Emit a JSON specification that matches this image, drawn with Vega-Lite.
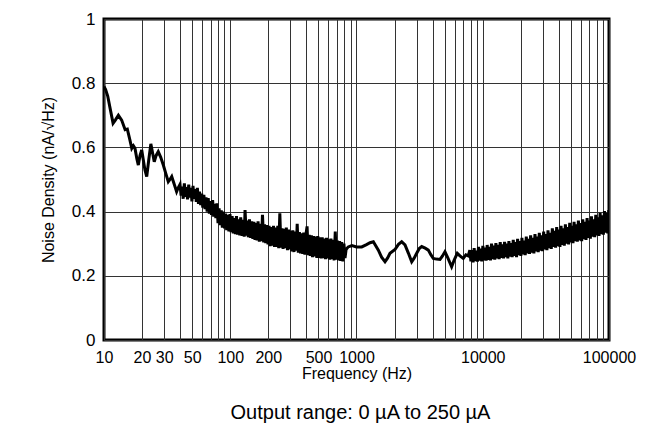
{
  "$schema": "https://vega.github.io/schema/vega-lite/v6.json",
  "width": 505,
  "height": 321,
  "autosize": {"type": "none"},
  "padding": {"left": 104, "top": 19, "right": 52, "bottom": 84},
  "background": "white",
  "config": {
    "view": {"stroke": "black", "strokeWidth": 3},
    "font": "Liberation Sans"
  },
  "title": {
    "text": "Output range: 0 µA to 250 µA",
    "orient": "bottom",
    "anchor": "middle",
    "fontSize": 20,
    "fontWeight": "normal",
    "color": "black",
    "offset": 22,
    "dx": 4
  },
  "data": {
    "values": [
      {"f": 10, "v": 0.79}, {"f": 10.3, "v": 0.78}, {"f": 10.7, "v": 0.76}, {"f": 11.2, "v": 0.72},
      {"f": 11.8, "v": 0.675}, {"f": 12.3, "v": 0.685}, {"f": 13.0, "v": 0.70}, {"f": 13.8, "v": 0.685},
      {"f": 14.7, "v": 0.655}, {"f": 15.3, "v": 0.657}, {"f": 16.0, "v": 0.625}, {"f": 16.6, "v": 0.597},
      {"f": 17.1, "v": 0.605}, {"f": 17.6, "v": 0.597}, {"f": 18.2, "v": 0.565}, {"f": 18.7, "v": 0.545},
      {"f": 19.3, "v": 0.575}, {"f": 19.9, "v": 0.592}, {"f": 20.5, "v": 0.56}, {"f": 21.1, "v": 0.53},
      {"f": 21.8, "v": 0.509}, {"f": 22.6, "v": 0.56}, {"f": 23.5, "v": 0.611}, {"f": 24.2, "v": 0.585},
      {"f": 25.0, "v": 0.555}, {"f": 25.9, "v": 0.575}, {"f": 26.9, "v": 0.587}, {"f": 28.1, "v": 0.57},
      {"f": 29.5, "v": 0.545}, {"f": 30.8, "v": 0.52}, {"f": 32.3, "v": 0.493}, {"f": 33.3, "v": 0.50},
      {"f": 34.4, "v": 0.509}, {"f": 36.0, "v": 0.485}, {"f": 37.6, "v": 0.462}, {"f": 38.8, "v": 0.475},
      {"f": 40, "v": 0.485}, {"f": 40.8, "v": 0.450}, {"f": 41.6, "v": 0.478}, {"f": 42.4, "v": 0.440},
      {"f": 43.3, "v": 0.488}, {"f": 44.2, "v": 0.446}, {"f": 45.0, "v": 0.476}, {"f": 45.9, "v": 0.438},
      {"f": 46.9, "v": 0.484}, {"f": 47.8, "v": 0.444}, {"f": 48.8, "v": 0.474}, {"f": 49.7, "v": 0.432},
      {"f": 50.7, "v": 0.480}, {"f": 51.7, "v": 0.440}, {"f": 52.8, "v": 0.470}, {"f": 53.8, "v": 0.430},
      {"f": 54.9, "v": 0.474}, {"f": 56.0, "v": 0.424}, {"f": 57.1, "v": 0.462}, {"f": 58.3, "v": 0.420},
      {"f": 59.4, "v": 0.456}, {"f": 60.6, "v": 0.412}, {"f": 61.8, "v": 0.452}, {"f": 63.1, "v": 0.408},
      {"f": 64.3, "v": 0.444}, {"f": 65.6, "v": 0.400}, {"f": 66.9, "v": 0.442}, {"f": 68.3, "v": 0.394},
      {"f": 69.6, "v": 0.433}, {"f": 71.0, "v": 0.390}, {"f": 72.5, "v": 0.436}, {"f": 73.9, "v": 0.384},
      {"f": 75.4, "v": 0.424}, {"f": 76.9, "v": 0.380}, {"f": 78.4, "v": 0.426}, {"f": 80.0, "v": 0.364},
      {"f": 81.6, "v": 0.410}, {"f": 83.2, "v": 0.358}, {"f": 84.9, "v": 0.404}, {"f": 86.6, "v": 0.350},
      {"f": 88.3, "v": 0.400}, {"f": 90.1, "v": 0.348}, {"f": 91.9, "v": 0.394}, {"f": 93.7, "v": 0.342},
      {"f": 95.6, "v": 0.390}, {"f": 97.5, "v": 0.338}, {"f": 99.5, "v": 0.392}, {"f": 101.5, "v": 0.336},
      {"f": 103.5, "v": 0.386}, {"f": 105.6, "v": 0.332}, {"f": 107.7, "v": 0.380}, {"f": 109.8, "v": 0.330},
      {"f": 112, "v": 0.386}, {"f": 114, "v": 0.328}, {"f": 117, "v": 0.376}, {"f": 119, "v": 0.326},
      {"f": 121, "v": 0.382}, {"f": 124, "v": 0.324}, {"f": 126, "v": 0.374}, {"f": 129, "v": 0.322},
      {"f": 131, "v": 0.405}, {"f": 134, "v": 0.325}, {"f": 137, "v": 0.372}, {"f": 139, "v": 0.320},
      {"f": 142, "v": 0.376}, {"f": 145, "v": 0.318}, {"f": 148, "v": 0.370}, {"f": 151, "v": 0.315},
      {"f": 154, "v": 0.368}, {"f": 157, "v": 0.312}, {"f": 160, "v": 0.364}, {"f": 163, "v": 0.310},
      {"f": 166, "v": 0.370}, {"f": 170, "v": 0.306}, {"f": 173, "v": 0.362}, {"f": 177, "v": 0.308},
      {"f": 180, "v": 0.390}, {"f": 184, "v": 0.304}, {"f": 187, "v": 0.360}, {"f": 191, "v": 0.302},
      {"f": 195, "v": 0.358}, {"f": 199, "v": 0.298}, {"f": 203, "v": 0.356}, {"f": 207, "v": 0.292},
      {"f": 211, "v": 0.352}, {"f": 215, "v": 0.294}, {"f": 220, "v": 0.356}, {"f": 224, "v": 0.290},
      {"f": 228, "v": 0.350}, {"f": 233, "v": 0.290}, {"f": 238, "v": 0.356}, {"f": 242, "v": 0.286},
      {"f": 247, "v": 0.395}, {"f": 252, "v": 0.288}, {"f": 257, "v": 0.348}, {"f": 262, "v": 0.284},
      {"f": 268, "v": 0.346}, {"f": 273, "v": 0.286}, {"f": 278, "v": 0.350}, {"f": 284, "v": 0.280},
      {"f": 290, "v": 0.344}, {"f": 295, "v": 0.282}, {"f": 301, "v": 0.340}, {"f": 307, "v": 0.276},
      {"f": 313, "v": 0.342}, {"f": 320, "v": 0.274}, {"f": 326, "v": 0.338}, {"f": 333, "v": 0.278},
      {"f": 339, "v": 0.362}, {"f": 346, "v": 0.272}, {"f": 353, "v": 0.336}, {"f": 360, "v": 0.270},
      {"f": 367, "v": 0.332}, {"f": 375, "v": 0.268}, {"f": 382, "v": 0.335}, {"f": 390, "v": 0.266},
      {"f": 398, "v": 0.330}, {"f": 406, "v": 0.354}, {"f": 414, "v": 0.264}, {"f": 422, "v": 0.328},
      {"f": 430, "v": 0.262}, {"f": 439, "v": 0.326}, {"f": 448, "v": 0.258}, {"f": 457, "v": 0.324},
      {"f": 466, "v": 0.260}, {"f": 475, "v": 0.322}, {"f": 485, "v": 0.256}, {"f": 494, "v": 0.324},
      {"f": 504, "v": 0.256}, {"f": 514, "v": 0.320}, {"f": 525, "v": 0.254}, {"f": 535, "v": 0.320},
      {"f": 546, "v": 0.255}, {"f": 557, "v": 0.316}, {"f": 568, "v": 0.252}, {"f": 579, "v": 0.318},
      {"f": 591, "v": 0.254}, {"f": 603, "v": 0.314}, {"f": 615, "v": 0.250}, {"f": 627, "v": 0.316},
      {"f": 640, "v": 0.252}, {"f": 652, "v": 0.312}, {"f": 665, "v": 0.248}, {"f": 679, "v": 0.338},
      {"f": 692, "v": 0.250}, {"f": 706, "v": 0.310}, {"f": 720, "v": 0.248}, {"f": 735, "v": 0.308},
      {"f": 749, "v": 0.246}, {"f": 764, "v": 0.305}, {"f": 780, "v": 0.245}, {"f": 795, "v": 0.300},
      {"f": 811, "v": 0.255}, {"f": 827, "v": 0.282},
      {"f": 860, "v": 0.290}, {"f": 920, "v": 0.294}, {"f": 1000, "v": 0.29}, {"f": 1100, "v": 0.29},
      {"f": 1200, "v": 0.297}, {"f": 1280, "v": 0.303}, {"f": 1360, "v": 0.306}, {"f": 1490, "v": 0.28},
      {"f": 1580, "v": 0.258}, {"f": 1682, "v": 0.244}, {"f": 1760, "v": 0.255}, {"f": 1842, "v": 0.27},
      {"f": 2018, "v": 0.282}, {"f": 2150, "v": 0.298}, {"f": 2280, "v": 0.306}, {"f": 2422, "v": 0.296},
      {"f": 2580, "v": 0.27}, {"f": 2737, "v": 0.244}, {"f": 2860, "v": 0.255}, {"f": 2998, "v": 0.27},
      {"f": 3140, "v": 0.285}, {"f": 3284, "v": 0.291}, {"f": 3500, "v": 0.286}, {"f": 3706, "v": 0.28},
      {"f": 3880, "v": 0.266}, {"f": 4059, "v": 0.254}, {"f": 4300, "v": 0.252}, {"f": 4585, "v": 0.251},
      {"f": 4800, "v": 0.262}, {"f": 5019, "v": 0.275}, {"f": 5300, "v": 0.255}, {"f": 5668, "v": 0.228},
      {"f": 5950, "v": 0.25}, {"f": 6283, "v": 0.27}, {"f": 6600, "v": 0.262}, {"f": 7012, "v": 0.254},
      {"f": 7350, "v": 0.265}, {"f": 7680, "v": 0.262},
      {"f": 7900, "v": 0.280}, {"f": 8058, "v": 0.245}, {"f": 8219, "v": 0.280}, {"f": 8384, "v": 0.242},
      {"f": 8551, "v": 0.286}, {"f": 8722, "v": 0.246}, {"f": 8897, "v": 0.278}, {"f": 9075, "v": 0.244},
      {"f": 9256, "v": 0.290}, {"f": 9441, "v": 0.247}, {"f": 9630, "v": 0.285}, {"f": 9823, "v": 0.245},
      {"f": 10019, "v": 0.293}, {"f": 10220, "v": 0.248}, {"f": 10424, "v": 0.288}, {"f": 10633, "v": 0.247},
      {"f": 10845, "v": 0.296}, {"f": 11062, "v": 0.250}, {"f": 11283, "v": 0.290}, {"f": 11509, "v": 0.248},
      {"f": 11739, "v": 0.300}, {"f": 11974, "v": 0.252}, {"f": 12214, "v": 0.294}, {"f": 12458, "v": 0.250},
      {"f": 12707, "v": 0.302}, {"f": 12961, "v": 0.254}, {"f": 13220, "v": 0.296}, {"f": 13485, "v": 0.252},
      {"f": 13754, "v": 0.305}, {"f": 14030, "v": 0.256}, {"f": 14310, "v": 0.298}, {"f": 14596, "v": 0.254},
      {"f": 14888, "v": 0.306}, {"f": 15186, "v": 0.258}, {"f": 15490, "v": 0.300}, {"f": 15800, "v": 0.254},
      {"f": 16116, "v": 0.308}, {"f": 16438, "v": 0.260}, {"f": 16767, "v": 0.302}, {"f": 17102, "v": 0.258},
      {"f": 17444, "v": 0.312}, {"f": 17793, "v": 0.262}, {"f": 18149, "v": 0.305}, {"f": 18512, "v": 0.258},
      {"f": 18882, "v": 0.315}, {"f": 19260, "v": 0.264}, {"f": 19645, "v": 0.308}, {"f": 20038, "v": 0.262},
      {"f": 20439, "v": 0.318}, {"f": 20848, "v": 0.267}, {"f": 21265, "v": 0.310}, {"f": 21690, "v": 0.264},
      {"f": 22124, "v": 0.322}, {"f": 22566, "v": 0.270}, {"f": 23018, "v": 0.315}, {"f": 23478, "v": 0.268},
      {"f": 23948, "v": 0.326}, {"f": 24427, "v": 0.272}, {"f": 24915, "v": 0.318}, {"f": 25413, "v": 0.270},
      {"f": 25922, "v": 0.330}, {"f": 26440, "v": 0.276}, {"f": 26969, "v": 0.322}, {"f": 27508, "v": 0.274},
      {"f": 28059, "v": 0.334}, {"f": 28620, "v": 0.278}, {"f": 29192, "v": 0.326}, {"f": 29776, "v": 0.277},
      {"f": 30372, "v": 0.338}, {"f": 30979, "v": 0.282}, {"f": 31599, "v": 0.330}, {"f": 32231, "v": 0.280},
      {"f": 32875, "v": 0.342}, {"f": 33533, "v": 0.286}, {"f": 34204, "v": 0.334}, {"f": 34888, "v": 0.284},
      {"f": 35585, "v": 0.348}, {"f": 36297, "v": 0.290}, {"f": 37023, "v": 0.340}, {"f": 37763, "v": 0.288},
      {"f": 38519, "v": 0.352}, {"f": 39289, "v": 0.292}, {"f": 40075, "v": 0.344}, {"f": 40877, "v": 0.290},
      {"f": 41694, "v": 0.356}, {"f": 42528, "v": 0.296}, {"f": 43379, "v": 0.348}, {"f": 44246, "v": 0.294},
      {"f": 45131, "v": 0.360}, {"f": 46034, "v": 0.300}, {"f": 46955, "v": 0.352}, {"f": 47894, "v": 0.298},
      {"f": 48852, "v": 0.365}, {"f": 49829, "v": 0.304}, {"f": 50825, "v": 0.356}, {"f": 51842, "v": 0.302},
      {"f": 52879, "v": 0.368}, {"f": 53936, "v": 0.308}, {"f": 55015, "v": 0.360}, {"f": 56115, "v": 0.306},
      {"f": 57237, "v": 0.372}, {"f": 58382, "v": 0.310}, {"f": 59550, "v": 0.364}, {"f": 60741, "v": 0.308},
      {"f": 61956, "v": 0.376}, {"f": 63195, "v": 0.314}, {"f": 64459, "v": 0.368}, {"f": 65748, "v": 0.312},
      {"f": 67063, "v": 0.380}, {"f": 68404, "v": 0.318}, {"f": 69772, "v": 0.372}, {"f": 71168, "v": 0.316},
      {"f": 72591, "v": 0.385}, {"f": 74043, "v": 0.322}, {"f": 75524, "v": 0.376}, {"f": 77034, "v": 0.320},
      {"f": 78575, "v": 0.390}, {"f": 80147, "v": 0.326}, {"f": 81750, "v": 0.382}, {"f": 83385, "v": 0.324},
      {"f": 85052, "v": 0.396}, {"f": 86753, "v": 0.330}, {"f": 88488, "v": 0.388}, {"f": 90258, "v": 0.328},
      {"f": 92063, "v": 0.402}, {"f": 93905, "v": 0.334}, {"f": 95783, "v": 0.395}, {"f": 97698, "v": 0.332},
      {"f": 99652, "v": 0.405}, {"f": 100000, "v": 0.398}
    ]
  },
  "mark": {"type": "line", "color": "black", "strokeWidth": 3, "clip": true},
  "encoding": {
    "x": {
      "field": "f",
      "type": "quantitative",
      "scale": {"type": "log", "domain": [10, 100000], "nice": false},
      "axis": {
        "values": [10, 20, 30, 40, 50, 60, 70, 80, 90, 100, 200, 300, 400, 500, 600, 700, 800, 900, 1000, 2000, 3000, 4000, 5000, 6000, 7000, 8000, 9000, 10000, 20000, 30000, 40000, 50000, 60000, 70000, 80000, 90000, 100000],
        "labelExpr": "indexof([10, 20, 30, 50, 100, 200, 500, 1000, 10000, 100000], datum.value) >= 0 ? format(datum.value, 'd') : ''",
        "labelOverlap": false,
        "labelFlush": false,
        "labelFontSize": 16,
        "labelColor": "black",
        "labelPadding": 9,
        "ticks": false,
        "domain": false,
        "grid": true,
        "gridColor": "#333333",
        "gridWidth": 1,
        "title": "Frequency (Hz)",
        "titleFontSize": 16,
        "titleFontWeight": "normal",
        "titleColor": "black",
        "titlePadding": 0
      }
    },
    "y": {
      "field": "v",
      "type": "quantitative",
      "scale": {"domain": [0, 1], "nice": false},
      "axis": {
        "values": [0, 0.2, 0.4, 0.6, 0.8, 1],
        "format": "~g",
        "labelFontSize": 17,
        "labelColor": "black",
        "labelPadding": 9,
        "ticks": false,
        "domain": false,
        "grid": true,
        "gridColor": "#333333",
        "gridWidth": 1,
        "title": "Noise Density (nA/√Hz)",
        "titleFontSize": 16,
        "titleFontWeight": "normal",
        "titleColor": "black",
        "titlePadding": 15
      }
    }
  }
}
